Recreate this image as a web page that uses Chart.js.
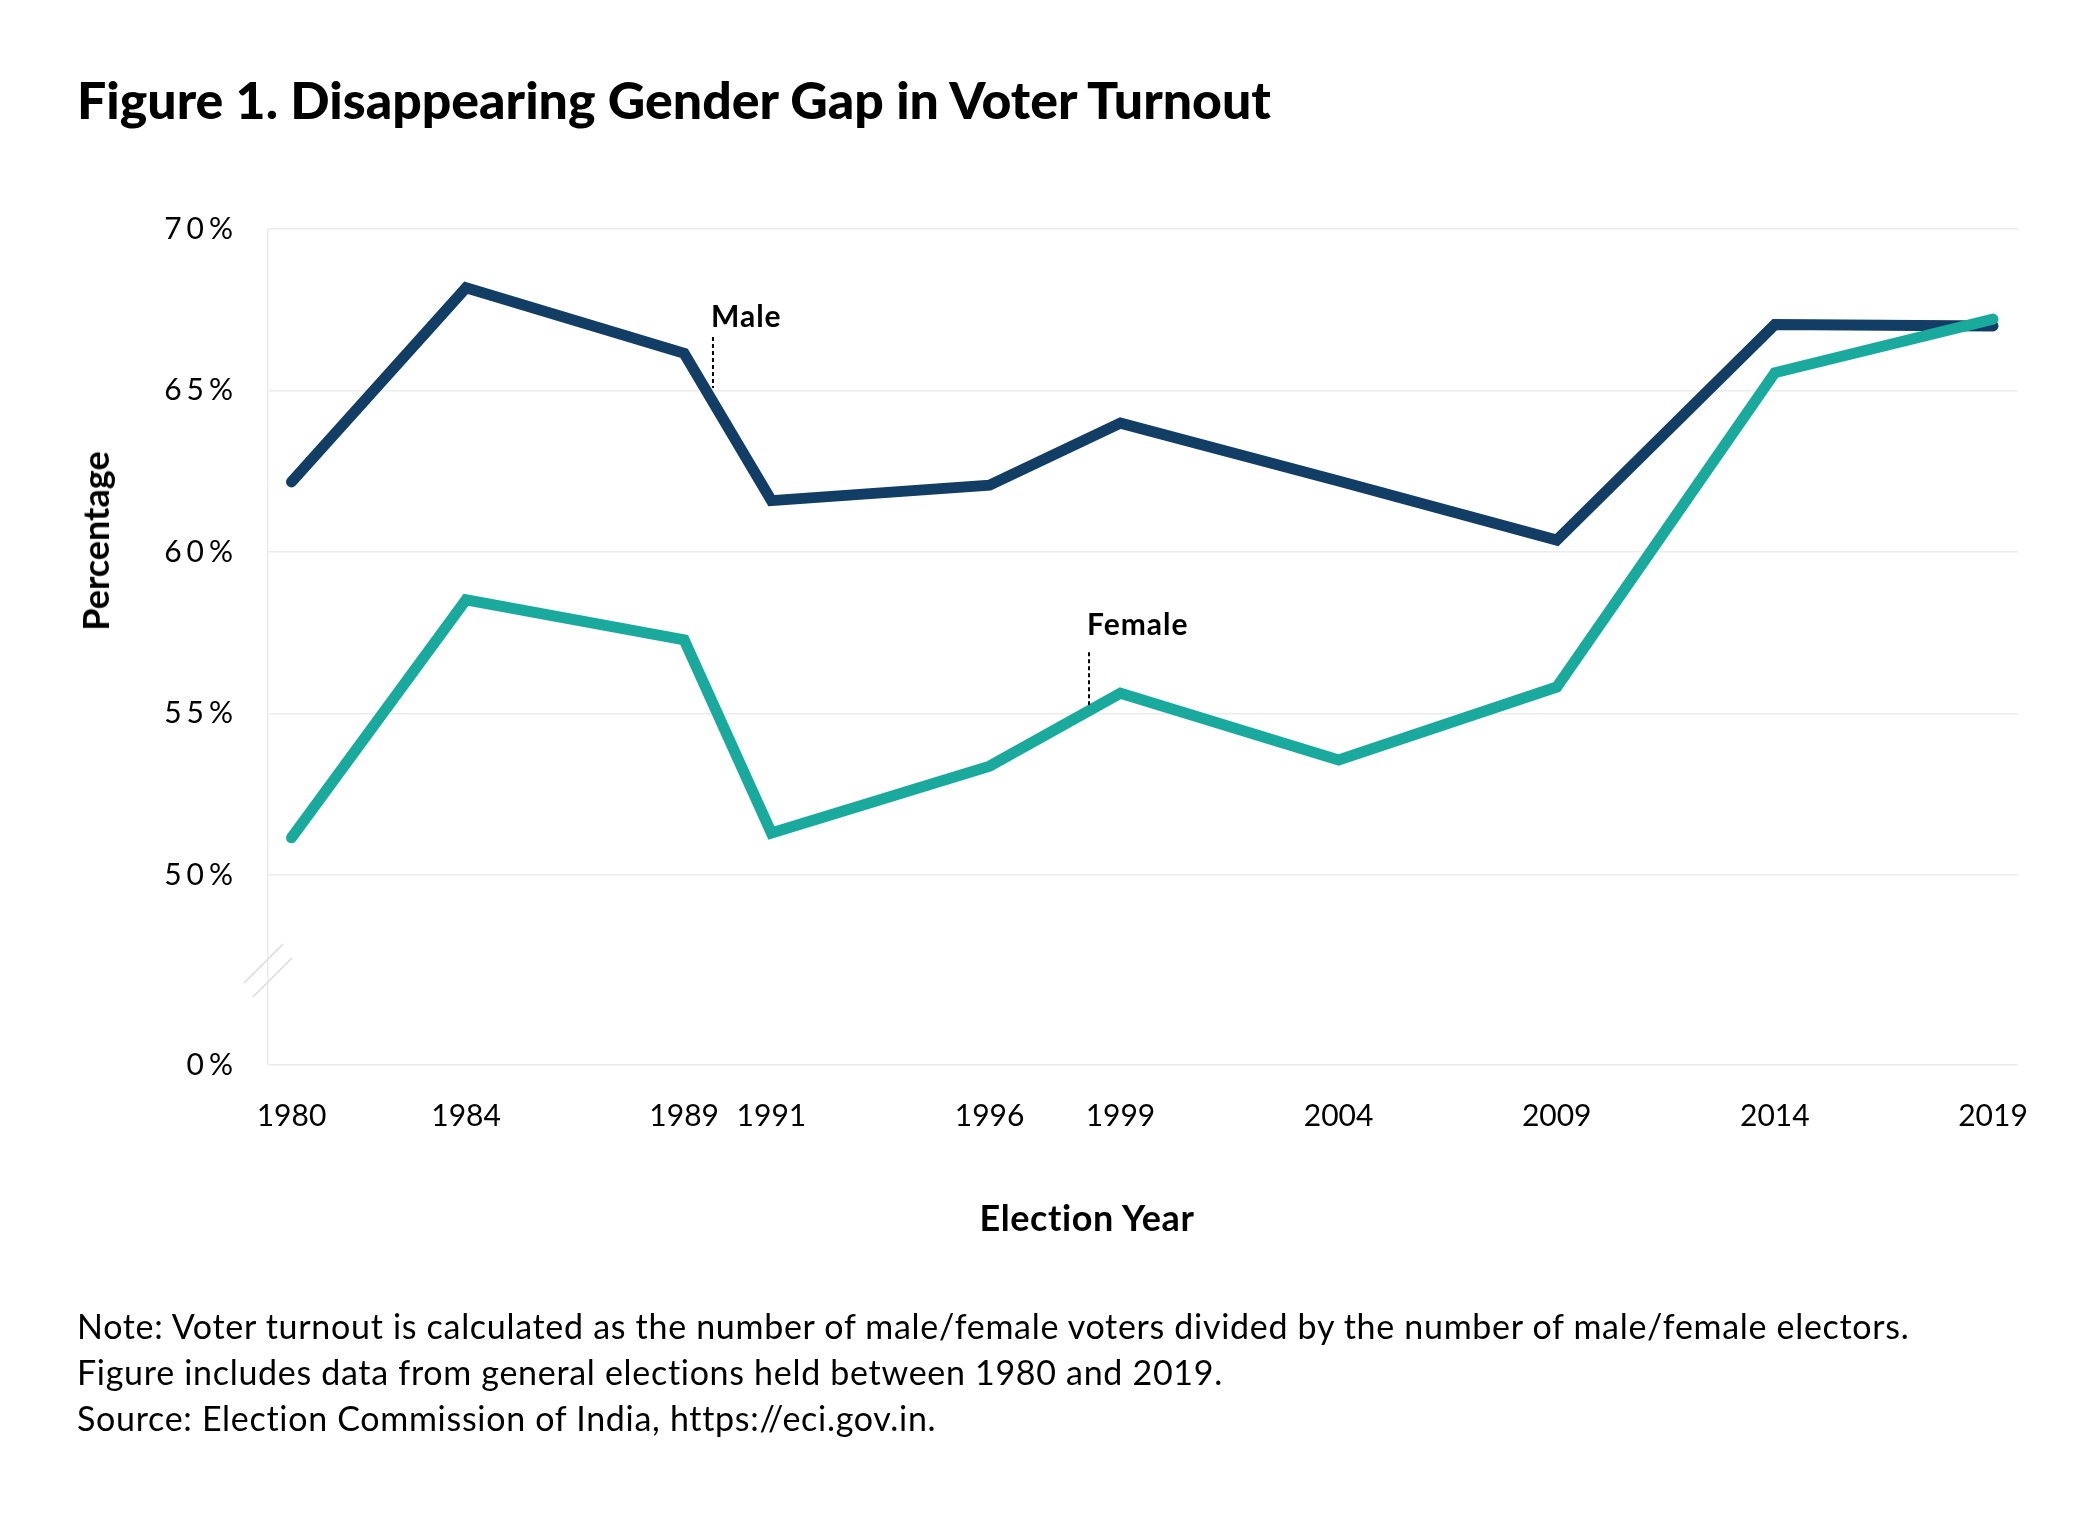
<!DOCTYPE html>
<html><head><meta charset="utf-8">
<script src="https://cdn.jsdelivr.net/npm/chart.js@4.4.1/dist/chart.umd.min.js"></script>
<style>
html,body{margin:0;padding:0;background:#fff;}
body{width:2084px;height:1528px;position:relative;overflow:hidden;font-family:Lato,sans-serif;color:#000;}
#c{position:absolute;left:0;top:0;}
.t{position:absolute;white-space:nowrap;line-height:1;}
</style></head><body>
<canvas id="c" width="2084" height="1528"></canvas>
<div class="t" id="title" style="left:77px;top:74px;font-size:51.8px;font-weight:900;">Figure 1. Disappearing Gender Gap in Voter Turnout</div>
<div class="t" id="ytitle" style="left:95px;top:541px;font-size:36px;font-weight:700;transform:translate(-50%,-50%) rotate(-90deg);">Percentage</div>
<div class="t" id="xtitle" style="left:1087px;top:1199px;font-size:36px;font-weight:700;letter-spacing:0.6px;transform:translateX(-50%);">Election Year</div>
<div class="t" id="note" style="left:77px;top:1303px;font-size:34px;line-height:46px;letter-spacing:0.7px;">Note: Voter turnout is calculated as the number of male/female voters divided by the number of male/female electors.<br>Figure includes data from general elections held between 1980 and 2019.<br>Source: Election Commission of India, https://eci.gov.in.</div>
<script>
const years = [1980, 1984, 1989, 1991, 1996, 1999, 2004, 2009, 2014, 2019];
const maleTurnout = [62.17, 68.18, 66.15, 61.59, 62.07, 63.99, 62.2, 60.37, 67.04, 67.0];
const femaleTurnout = [51.15, 58.52, 57.28, 51.3, 53.37, 55.63, 53.56, 55.82, 65.55, 67.21];
const yTickValues = [50, 55, 60, 65, 70];
const zeroTickLabel = '0%';
const breakValue = 44.118; // where the "0%" tick sits after the axis break

const annotations = [
  {text: 'Male', x: 1989.66, labelY: 66.97, lineTop: 66.66, lineBottom: 65.08},
  {text: 'Female', x: 1998.28, labelY: 57.43, lineTop: 56.9, lineBottom: 55.26}
];

const MALE_COLOR = '#123d64';
const FEMALE_COLOR = '#1aaa9d';
const GRID_COLOR = '#ececec';

const extrasPlugin = {
  id: 'extras',
  afterLayout(chart) {
    const s = chart.scales.y;
    if (!s._lsWrapped) {
      const orig = s.drawLabels.bind(s);
      s.drawLabels = function (ca) {
        const c = this.ctx; c.save(); c.letterSpacing = '5px'; orig(ca); c.restore();
      };
      s._lsWrapped = true;
    }
  },
  beforeDatasetsDraw(chart) {
    const {ctx, chartArea} = chart;
    const ys = chart.scales.y;
    const mid = (ys.getPixelForValue(50) + ys.getPixelForValue(breakValue)) / 2;
    const l = chartArea.left;
    ctx.save();
    ctx.strokeStyle = '#e4e4e4';
    ctx.lineWidth = 2;
    ctx.beginPath();
    ctx.moveTo(l - 24, mid + 13); ctx.lineTo(l + 15, mid - 26);
    ctx.moveTo(l - 15, mid + 27); ctx.lineTo(l + 24, mid - 12);
    ctx.stroke();
    ctx.restore();
  },
  afterDatasetsDraw(chart) {
    const {ctx} = chart;
    const xs = chart.scales.x, ys = chart.scales.y;
    ctx.save();
    annotations.forEach(a => {
      const px = xs.getPixelForValue(a.x);
      ctx.strokeStyle = '#000';
      ctx.lineWidth = 2;
      ctx.setLineDash([4, 3]);
      ctx.beginPath();
      ctx.moveTo(px, ys.getPixelForValue(a.lineTop));
      ctx.lineTo(px, ys.getPixelForValue(a.lineBottom));
      ctx.stroke();
      ctx.setLineDash([]);
      ctx.fillStyle = '#000';
      ctx.font = 'bold 30px Lato';
      ctx.textAlign = 'left';
      ctx.textBaseline = 'alphabetic';
      ctx.letterSpacing = '1px';
      ctx.fillText(a.text, px - 2, ys.getPixelForValue(a.labelY));
      ctx.letterSpacing = '0px';
    });
    ctx.restore();
  }
};

function build() {
  const toPts = arr => years.map((yr, i) => ({x: yr, y: arr[i]}));
  new Chart(document.getElementById('c'), {
    type: 'line',
    data: {
      datasets: [
        {label: 'Female', data: toPts(femaleTurnout), borderColor: FEMALE_COLOR, borderWidth: 11,
         pointRadius: 0, tension: 0, borderCapStyle: 'round', borderJoinStyle: 'miter', order: 0},
        {label: 'Male', data: toPts(maleTurnout), borderColor: MALE_COLOR, borderWidth: 11,
         pointRadius: 0, tension: 0, borderCapStyle: 'round', borderJoinStyle: 'miter', order: 1}
      ]
    },
    options: {
      responsive: false, animation: false, devicePixelRatio: 1,
      layout: {padding: {left: 0, right: 66, top: 229, bottom: 0}},
      plugins: {legend: {display: false}, tooltip: {enabled: false}},
      scales: {
        x: {
          type: 'linear', min: 1979.461, max: 2019.573,
          afterBuildTicks: s => { s.ticks = years.map(v => ({value: v})); },
          afterFit: s => { s.height = 463; },
          grid: {display: false}, border: {display: false},
          ticks: {autoSkip: false, maxRotation: 0, padding: 25, color: '#000',
                  font: {family: 'Lato', size: 30}, callback: v => String(v)}
        },
        y: {
          type: 'linear', min: breakValue, max: 70,
          afterBuildTicks: s => { s.ticks = [breakValue, ...yTickValues].map(v => ({value: v})); },
          afterFit: s => { s.width = 268; },
          grid: {color: GRID_COLOR, lineWidth: 1.5, drawTicks: false},
          border: {display: true, color: GRID_COLOR, width: 1.5},
          ticks: {padding: 30, color: '#000', font: {family: 'Lato', size: 30},
                  callback: v => Math.abs(v - breakValue) < 1e-6 ? zeroTickLabel : v + '%'}
        }
      }
    },
    plugins: [extrasPlugin]
  });
}
Promise.all([
  document.fonts.load('30px Lato'), document.fonts.load('bold 30px Lato'), document.fonts.load('900 50px Lato')
]).then(build, build);
</script>
</body></html>
